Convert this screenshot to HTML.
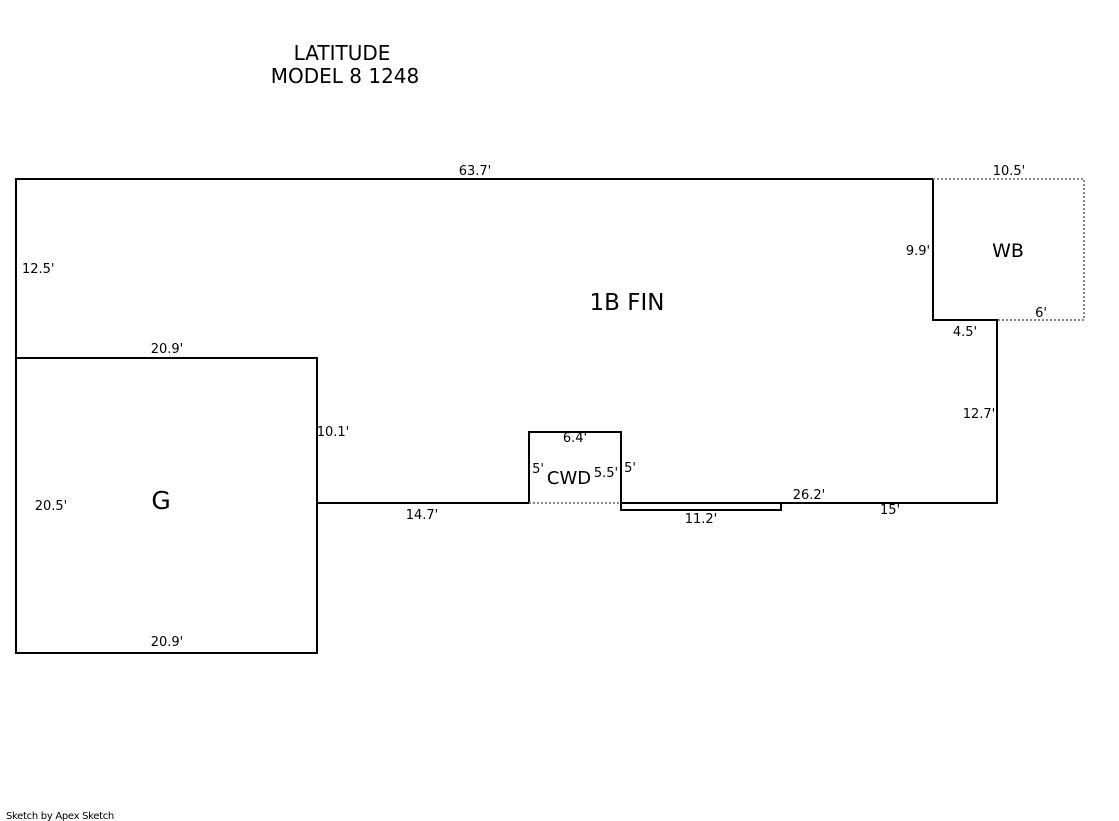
<!DOCTYPE html>
<html><head><style>body{margin:0;background:#fff}svg{display:block}text{font-family:"DejaVu Sans","Liberation Sans",sans-serif;fill:#000}</style></head><body>
<svg width="1119" height="821" viewBox="0 0 1119 821">
<text x="342" y="60" font-size="20" text-anchor="middle">LATITUDE</text>
<text x="345" y="83" font-size="20" text-anchor="middle">MODEL 8 1248</text>
<g fill="none" stroke="#000" stroke-width="2">
<polyline points="16,358 16,179 933,179 933,320 997,320 997,503 781,503 781,510 621,510 621,432 529,432 529,503 317,503"/>
<line x1="621" y1="503" x2="781" y2="503"/>
<rect x="16" y="358" width="301" height="295"/>
</g>
<g fill="none" stroke="#888" stroke-width="2" stroke-dasharray="2,2">
<polyline points="933,179 1084,179 1084,320 997,320"/>
<line x1="529" y1="503" x2="621" y2="503"/>
</g>
<g font-size="13">
<text x="475" y="175" text-anchor="middle">63.7'</text>
<text x="1009" y="175" text-anchor="middle">10.5'</text>
<text x="22" y="273">12.5'</text>
<text x="918" y="255" text-anchor="middle">9.9'</text>
<text x="1041" y="317" text-anchor="middle">6'</text>
<text x="965" y="336" text-anchor="middle">4.5'</text>
<text x="167" y="353" text-anchor="middle">20.9'</text>
<text x="979" y="418" text-anchor="middle">12.7'</text>
<text x="333" y="436" text-anchor="middle">10.1'</text>
<text x="575" y="442" text-anchor="middle">6.4'</text>
<text x="538" y="473" text-anchor="middle">5'</text>
<text x="606" y="477" text-anchor="middle">5.5'</text>
<text x="630" y="472" text-anchor="middle">5'</text>
<text x="809" y="499" text-anchor="middle">26.2'</text>
<text x="890" y="514" text-anchor="middle">15'</text>
<text x="51" y="510" text-anchor="middle">20.5'</text>
<text x="422" y="519" text-anchor="middle">14.7'</text>
<text x="701" y="523" text-anchor="middle">11.2'</text>
<text x="167" y="646" text-anchor="middle">20.9'</text>
</g>
<text x="627" y="310" font-size="23" text-anchor="middle">1B FIN</text>
<text x="1008" y="257" font-size="19" text-anchor="middle">WB</text>
<text x="569" y="484" font-size="18" text-anchor="middle">CWD</text>
<text x="161" y="509" font-size="25" text-anchor="middle">G</text>
<text x="6" y="819" font-size="10" letter-spacing="-0.3">Sketch by Apex Sketch</text>
</svg>
</body></html>
